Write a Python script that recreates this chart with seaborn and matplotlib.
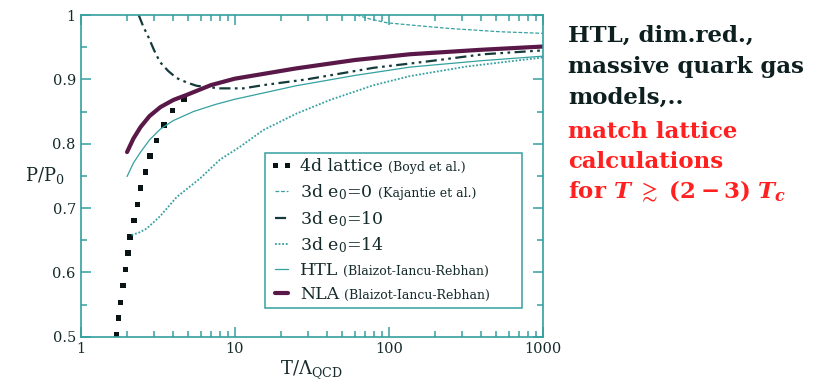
import numpy as np
import pandas as pd
import seaborn as sns
import matplotlib.pyplot as plt

# values (x = T/Lambda_QCD, y = P/P0)
lattice_x = [1.71, 1.76, 1.82, 1.88, 1.95, 2.03, 2.09, 2.22, 2.33, 2.46, 2.64, 2.82, 3.10, 3.47, 3.93, 4.69]
lattice_y = [0.503, 0.529, 0.553, 0.580, 0.605, 0.630, 0.655, 0.681, 0.706, 0.731, 0.756, 0.781, 0.805, 0.829, 0.851, 0.869]

e0_0_x = [62, 75, 97, 118, 180, 251, 527, 1000]
e0_0_y = [1.0, 0.994, 0.988, 0.986, 0.982, 0.979, 0.974, 0.9715]

e0_10_x = [2.38, 2.55, 2.75, 3.0, 3.27, 3.7, 4.2, 4.9, 5.66, 8.0, 11.4, 15.3, 29.4, 80, 131, 195, 411, 1000]
e0_10_y = [1.0, 0.982, 0.966, 0.945, 0.927, 0.913, 0.902, 0.895, 0.890, 0.886, 0.886, 0.891, 0.900, 0.918, 0.924, 0.929, 0.939, 0.945]

e0_14_x = [2.14, 2.4, 2.68, 3.27, 4.2, 5.96, 8.0, 10.8, 15.3, 25.3, 41.6, 80, 137, 321, 1000]
e0_14_y = [0.658, 0.662, 0.668, 0.687, 0.717, 0.746, 0.775, 0.795, 0.821, 0.847, 0.868, 0.891, 0.905, 0.920, 0.934]

htl_x = [2.0, 2.2, 2.45, 2.8, 3.3, 4.0, 5.4, 7.5, 10, 25, 60, 137, 400, 1000]
htl_y = [0.749, 0.770, 0.787, 0.806, 0.823, 0.836, 0.850, 0.861, 0.869, 0.890, 0.906, 0.919, 0.929, 0.936]

nla_x = [2.0, 2.2, 2.45, 2.8, 3.3, 4.0, 4.9, 7.0, 10, 25, 60, 137, 400, 1000]
nla_y = [0.787, 0.808, 0.826, 0.843, 0.857, 0.868, 0.876, 0.891, 0.901, 0.917, 0.930, 0.939, 0.946, 0.951]

legend_main = ['4d lattice', r'3d e$_\mathregular{0}$=0', r'3d e$_\mathregular{0}$=10',
               r'3d e$_\mathregular{0}$=14', 'HTL', 'NLA']
legend_small = ['(Boyd et al.)', '(Kajantie et al.)', '', '', '(Blaizot-Iancu-Rebhan)', '(Blaizot-Iancu-Rebhan)']

x_ticks = [1, 10, 100, 1000]
x_ticklabels = ['1', '10', '100', '1000']
x_minor = [2, 3, 4, 5, 6, 7, 8, 9, 20, 30, 40, 50, 60, 70, 80, 90, 200, 300, 400, 500, 600, 700, 800, 900]
y_ticks = [0.5, 0.6, 0.7, 0.8, 0.9, 1.0]
y_ticklabels = ['0.5', '0.6', '0.7', '0.8', '0.9', '1']
y_minor = [0.55, 0.65, 0.75, 0.85, 0.95]

black_lines = ['HTL, dim.red.,', 'massive quark gas', 'models,..']
red_lines = ['match lattice', 'calculations',
             r'for $\mathbfit{T}\ \gtrsim\ \mathbf{(2-3)}\ \mathbfit{T}_{\mathbfit{c}}$']

TEAL = '#35a0a0'
PURPLE = '#5a1848'
INK = '#152a2a'

sns.set_theme(style='ticks')
plt.rcParams['font.family'] = ['DejaVu Serif']
plt.rcParams['mathtext.fontset'] = 'dejavuserif'
plt.rcParams.update({
    'xtick.direction': 'in', 'ytick.direction': 'in',
    'xtick.top': True, 'ytick.right': True,
    'xtick.major.size': 7, 'ytick.major.size': 7,
    'xtick.minor.size': 4, 'ytick.minor.size': 4,
    'xtick.major.width': 1.1, 'ytick.major.width': 1.1,
    'xtick.minor.width': 1.1, 'ytick.minor.width': 1.1,
    'xtick.color': TEAL, 'ytick.color': TEAL,
    'xtick.labelcolor': INK, 'ytick.labelcolor': INK,
})

fig = plt.figure(figsize=(8.37, 3.86), dpi=100)
ax = fig.add_axes([0.0964, 0.1277, 0.552, 0.8334])

sns.scatterplot(x=lattice_x, y=lattice_y, marker='s', s=14, color='#0a1414',
                edgecolor='none', ax=ax, label=legend_main[0])
sns.lineplot(x=e0_0_x, y=e0_0_y, color=TEAL, lw=0.9, ls=(0, (3, 1.5)), ax=ax,
             estimator=None, label=legend_main[1])
sns.lineplot(x=e0_10_x, y=e0_10_y, color='#143a3a', lw=1.6, ls=(0, (5, 2, 1.2, 2, 1.2, 2)), ax=ax,
             estimator=None, label=legend_main[2])
sns.lineplot(x=e0_14_x, y=e0_14_y, color=TEAL, lw=1.3, ls=(0, (1, 1)), ax=ax,
             estimator=None, label=legend_main[3])
sns.lineplot(x=htl_x, y=htl_y, color=TEAL, lw=0.9, ax=ax, estimator=None, label=legend_main[4])
sns.lineplot(x=nla_x, y=nla_y, color=PURPLE, lw=3, ax=ax, estimator=None, label=legend_main[5])

ax.set_xscale('log')
ax.set_xlim(1, 1000)
ax.set_ylim(0.5, 1.0)
ax.set_xticks(x_ticks)
ax.set_xticklabels(x_ticklabels)
ax.set_xticks(x_minor, minor=True)
ax.set_xticklabels([''] * len(x_minor), minor=True)
ax.set_yticks(y_ticks)
ax.set_yticklabels(y_ticklabels)
ax.set_yticks(y_minor, minor=True)
ax.tick_params(which='both', labelsize=10.5, pad=3.5)
for s in ax.spines.values():
    s.set_visible(True)
    s.set_color(TEAL)
    s.set_linewidth(1.2)

ax.set_xlabel('T/Λ$_\\mathregular{QCD}$', fontsize=13, color=INK, labelpad=2)
ax.set_ylabel('P/P$_\\mathregular{0}$', fontsize=13, color=INK, rotation=0, ha='right', va='center')
ax.yaxis.set_label_coords(-0.034, 0.5)

handles, labels = ax.get_legend_handles_labels()
leg = ax.legend(handles, labels, loc='upper left', bbox_to_anchor=(0.399, 0.086, 0.556, 0.485),
                mode='expand', borderaxespad=0, fontsize=12.5, frameon=True, fancybox=False,
                edgecolor=TEAL, framealpha=1, borderpad=0.3, labelspacing=0.4,
                handlelength=1.3, handletextpad=0.4, numpoints=2, scatterpoints=2,
                scatteryoffsets=[0.5])
leg.get_frame().set_linewidth(1.1)
for t in leg.get_texts():
    t.set_color(INK)

# smaller parenthetical text after each legend label
fig.canvas.draw()
inv = fig.transFigure.inverted()
for t, extra in zip(leg.get_texts(), legend_small):
    if not extra:
        continue
    bb = t.get_window_extent()
    base = t.get_transform().transform(t.get_position())
    fx, fy = inv.transform((bb.x1 + 5, base[1]))
    fig.text(fx, fy, extra, fontsize=9, color=INK, ha='left', va='baseline')

# commentary on the right
for txt, yb in zip(black_lines, [0.892, 0.810, 0.732]):
    fig.text(0.6786, yb, txt, fontsize=16.5, fontweight='bold', color='#0d1f1f', va='baseline')
for txt, yb in zip(red_lines, [0.642, 0.564, 0.487]):
    fig.text(0.6786, yb, txt, fontsize=16.5, fontweight='bold', color='#ff2020', va='baseline')

fig.savefig('out.png', dpi=100)
